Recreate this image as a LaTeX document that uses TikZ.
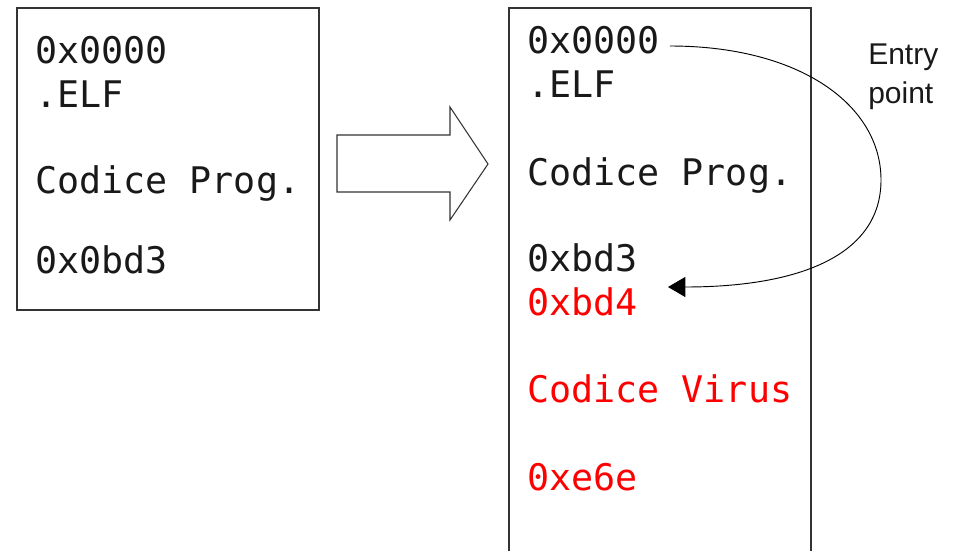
\documentclass[tikz,border=0pt]{standalone}
\usepackage{fontspec}
\newfontfamily\codefont{DejaVu Sans Mono}
\newfontfamily\labelfont{Liberation Sans}
\usetikzlibrary{arrows.meta}

\tikzset{
  memline/.style={line width=0.9pt, draw=black!80},
  code/.style={anchor=base west, inner sep=0pt, font=\codefont\fontsize{27.5}{30}\selectfont, text=black!90},
  viruscode/.style={code, text=red},
  jump/.style={line width=0.7pt, -{Triangle[length=13pt,width=15pt]}},
}

\begin{document}
\begin{tikzpicture}[x=0.75pt,y=-0.75pt]
  \useasboundingbox (0,0) rectangle (959,550);

  % original executable image
  \draw[memline] (17,8) rectangle (319,310);
  \node[code] (l0)   at (35,63)  {0x0000};
  \node[code] (lelf) at (35,107) {.ELF};
  \node[code] (lprg) at (35,193) {Codice Prog.};
  \node[code] (lend) at (35,273) {0x0bd3};

  % transformation arrow
  \draw[memline, line width=0.8pt] (337,135) -- (450,135) -- (450,107) -- (488,164)
        -- (450,220) -- (450,192) -- (337,192) -- cycle;

  % infected executable image (continues below)
  \draw[memline] (509,551) -- (509,8) -- (811,8) -- (811,551);
  \node[code] (r0)   at (527,53)  {0x0000};
  \node[code] (relf) at (527,97)  {.ELF};
  \node[code] (rprg) at (527,185) {Codice Prog.};
  \node[code] (rend) at (527,271) {0xbd3};
  \node[viruscode] (vstart) at (527,315) {0xbd4};
  \node[viruscode] (vcode)  at (527,402) {Codice Virus};
  \node[viruscode] (vend)   at (527,490) {0xe6e};

  % new entry point jump
  \coordinate (jfrom) at ([xshift=7.5pt]r0.east |- 0,46);
  \coordinate (jto)   at (668,287);
  \draw[jump] (jfrom) .. controls (800,46) and (881,105) .. (881,180)
                      .. controls (881,255) and (800,287) .. (jto);

  \node[anchor=base west, inner sep=0pt, align=left,
        font=\labelfont\fontsize{22.5}{29}\selectfont, text=black!90]
        (entry) at (868,103) {Entry\\point};
\end{tikzpicture}
\end{document}
